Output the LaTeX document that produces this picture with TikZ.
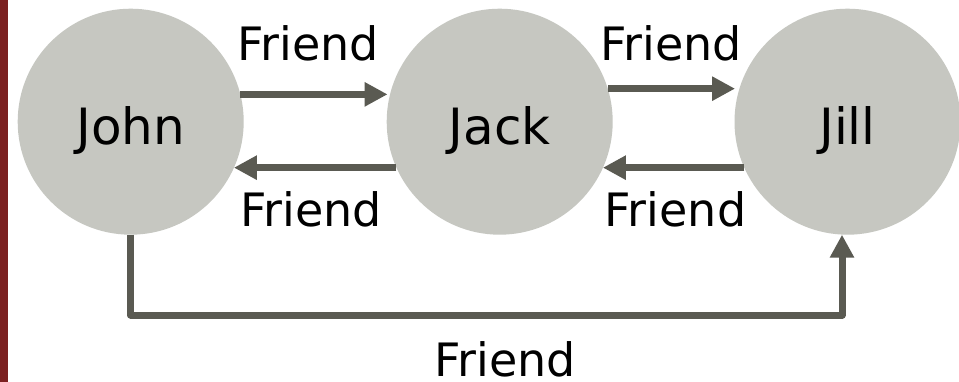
\documentclass[tikz,border=0pt]{standalone}
\usepackage{fontspec}
\setmainfont{DejaVu Sans}
\usetikzlibrary{arrows.meta}
\definecolor{nodefill}{HTML}{C6C7C1}
\definecolor{linecol}{HTML}{5A5A52}
\definecolor{barred}{HTML}{7B2121}
\tikzset{
  person/.style={circle, fill=nodefill, draw=none, minimum size=226pt, inner sep=0pt, outer sep=0pt,
    text height=45pt, text depth=0pt, font=\fontsize{50}{54}\selectfont},
  rel/.style={draw=linecol, line width=7pt, line join=round,
    -{Triangle[length=23pt,width=23pt]}},
  rellabel/.style={anchor=base, inner sep=0pt, font=\fontsize{46}{50}\selectfont}
}
\begin{document}
\begin{tikzpicture}[x=1pt,y=-1pt]
\useasboundingbox (0,0) rectangle (959,382);
\fill[white] (0,0) rectangle (959,382);
\fill[barred] (0,0) rectangle (8,382);
\node[person] (john) at (130.7,121.7) {John};
\node[person] (jack) at (499.7,121.7) {Jack};
\node[person] (jill) at (847.5,121.7) {Jill};
% top arrows
\draw[rel, shorten >=3pt] (john.14.56) -- (jack.165.44 |- john.14.56);
\draw[rel, shorten >=5pt] (jack.17.19) -- (jill.162.81 |- jack.17.19);
% bottom arrows
\draw[rel] (jill.204.36) -- (jack.-24.36 |- jill.204.36);
\draw[rel] (jack.204.36) -- (john.-24.36 |- jack.204.36);
% loop
\coordinate (jillin) at ([xshift=-5.5pt]jill.south);
\draw[rel] (john.south) -- (130.7,315) -| (jillin);
% labels
\node[rellabel] (l1) at (308,61) {Friend};
\node[rellabel] (l2) at (671,61) {Friend};
\node[rellabel] (l3) at (311,227) {Friend};
\node[rellabel] (l4) at (675.5,227) {Friend};
\node[rellabel] (l5) at (505,376) {Friend};
\end{tikzpicture}
\end{document}
